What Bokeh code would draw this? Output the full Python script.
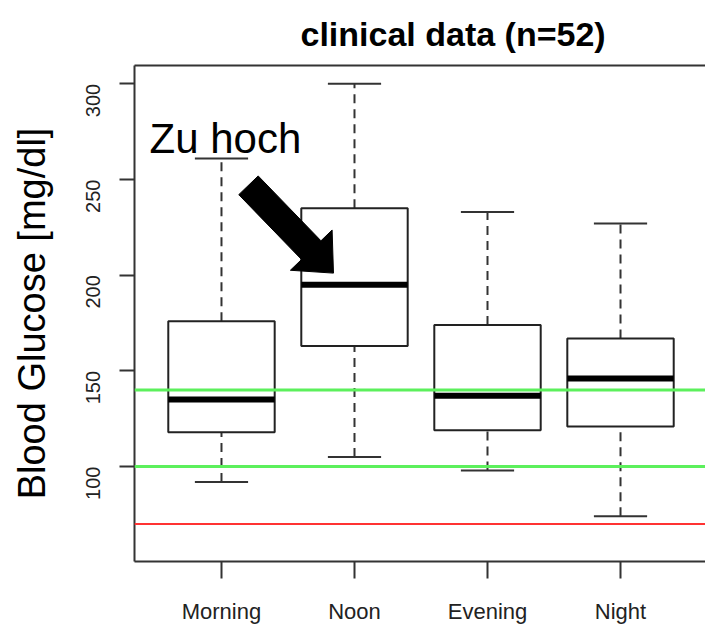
import math
from bokeh.plotting import figure
from bokeh.models import Span, Label, LinearAxis, FixedTicker, Range1d, ColumnDataSource
from bokeh.embed import file_html
from bokeh.resources import INLINE

# ---------------- data ----------------
categories = ["Morning", "Noon", "Evening", "Night"]
whisker_low = [92, 105, 98, 74]
q1 = [118, 163, 119, 121]
median = [135, 195, 137, 146]
q3 = [176, 235, 174, 167]
whisker_high = [261, 300, 233, 227]
y_ticks = [100, 150, 200, 250, 300]
target_low = 100
target_high = 140
hypo_limit = 70
title_text = "clinical data (n=52)"
y_label = "Blood Glucose [mg/dl]"
note_text = "Zu hoch"

# annotation anchors (data coordinates)
note_pos = (0.459, 271.5)
arrow_tail = (1.203, 247.0)
arrow_tip = (1.842, 201.1)

# ---------------- layout ----------------
W, H = 705, 629
MB_L, MB_R, MB_T, MB_B = 134, 0, 64, 68
X0, X1 = 0.346, 4.639
Y0, Y1 = 50.4, 309.6
FRAME_W = W - MB_L - MB_R
FRAME_H = H - MB_T - MB_B
BOX_HALF = 0.4
CAP_HALF = 0.2

xs = [i + 1 for i in range(len(categories))]
src = ColumnDataSource(dict(
    x=xs,
    left=[x - BOX_HALF for x in xs],
    right=[x + BOX_HALF for x in xs],
    cap_l=[x - CAP_HALF for x in xs],
    cap_r=[x + CAP_HALF for x in xs],
    lo=whisker_low, q1=q1, med=median, q3=q3, hi=whisker_high,
))

p = figure(width=W, height=H, x_range=Range1d(X0, X1), y_range=Range1d(Y0, Y1),
           output_backend="svg", toolbar_location=None,
           min_border_left=MB_L, min_border_right=MB_R,
           min_border_top=MB_T, min_border_bottom=MB_B,
           outline_line_color=None, background_fill_color="white",
           border_fill_color="white")
p.grid.visible = False

# title
p.title.text = title_text
p.title.align = "left"
p.title.offset = 166
p.title.text_font = "Liberation Sans"
p.title.text_font_style = "bold"
p.title.text_font_size = "34px"
p.title.text_color = "black"
p.title.standoff = 25

AX_COL = "#333333"
# x axis
xa = p.xaxis[0]
xa.ticker = FixedTicker(ticks=xs)
xa.major_label_overrides = {x: c for x, c in zip(xs, categories)}
xa.minor_tick_line_color = None
xa.major_tick_in = 0
xa.major_tick_out = 17
xa.major_tick_line_width = 2
xa.major_tick_line_color = AX_COL
xa.axis_line_width = 2
xa.axis_line_color = AX_COL
xa.major_label_standoff = 20
xa.major_label_text_font = "Liberation Sans"
xa.major_label_text_font_size = "22px"
xa.major_label_text_color = "#222222"

# y axis
ya = p.yaxis[0]
ya.ticker = FixedTicker(ticks=y_ticks)
ya.minor_tick_line_color = None
ya.major_tick_in = 0
ya.major_tick_out = 15
ya.major_tick_line_width = 2
ya.major_tick_line_color = AX_COL
ya.axis_line_width = 2
ya.axis_line_color = AX_COL
ya.major_label_orientation = math.pi / 2
ya.major_label_standoff = 26
ya.major_label_text_font = "Liberation Sans"
ya.major_label_text_font_size = "20px"
ya.major_label_text_color = "#222222"
ya.axis_label = y_label
ya.axis_label_text_font = "Liberation Sans"
ya.axis_label_text_font_size = "38px"
ya.axis_label_text_font_style = "normal"
ya.axis_label_text_color = "black"
ya.axis_label_standoff = 24

# top border
top = LinearAxis(ticker=FixedTicker(ticks=[]), major_label_text_font_size="0px",
                 major_label_standoff=0, major_tick_out=0, major_tick_in=0,
                 major_tick_line_color=None, minor_tick_line_color=None,
                 axis_line_width=2, axis_line_color=AX_COL)
p.add_layout(top, "above")

# boxplots
DASH = "9 6"
p.segment(x0="x", y0="q3", x1="x", y1="hi", source=src, line_color=AX_COL,
          line_width=2, line_dash=DASH)
p.segment(x0="x", y0="lo", x1="x", y1="q1", source=src, line_color=AX_COL,
          line_width=2, line_dash=DASH)
p.quad(left="left", right="right", bottom="q1", top="q3", source=src,
       fill_color="white", line_color="#222222", line_width=2)
p.segment(x0="cap_l", y0="hi", x1="cap_r", y1="hi", source=src,
          line_color=AX_COL, line_width=2)
p.segment(x0="cap_l", y0="lo", x1="cap_r", y1="lo", source=src,
          line_color=AX_COL, line_width=2)
p.segment(x0="left", y0="med", x1="right", y1="med", source=src,
          line_color="black", line_width=6)

# reference lines
p.add_layout(Span(location=target_high, dimension="width", line_color="#5cf05c",
                  line_width=3))
p.add_layout(Span(location=target_low, dimension="width", line_color="#5cf05c",
                  line_width=3))
p.add_layout(Span(location=hypo_limit, dimension="width", line_color="#ff3333",
                  line_width=2))

# annotation text
p.add_layout(Label(x=note_pos[0], y=note_pos[1], text=note_text,
                   text_align="left", text_baseline="alphabetic",
                   text_font="Liberation Sans", text_font_size="42px",
                   text_color="black"))

# arrow (geometry in pixels, converted back to data units)
kx = FRAME_W / (X1 - X0)
ky = FRAME_H / (Y1 - Y0)
dxp = (arrow_tip[0] - arrow_tail[0]) * kx
dyp = -(arrow_tip[1] - arrow_tail[1]) * ky
L = math.hypot(dxp, dyp)
ux, uy = dxp / L, dyp / L
nx, ny = -uy, ux
SHAFT_HALF, HEAD_HALF, HEAD_LEN = 13.5, 29.0, 32.0
base = L - HEAD_LEN
pts = [
    (nx * SHAFT_HALF, ny * SHAFT_HALF),
    (ux * base + nx * SHAFT_HALF, uy * base + ny * SHAFT_HALF),
    (ux * base + nx * HEAD_HALF, uy * base + ny * HEAD_HALF),
    (ux * L, uy * L),
    (ux * base - nx * HEAD_HALF, uy * base - ny * HEAD_HALF),
    (ux * base - nx * SHAFT_HALF, uy * base - ny * SHAFT_HALF),
    (-nx * SHAFT_HALF, -ny * SHAFT_HALF),
]
ax = [arrow_tail[0] + px / kx for px, py in pts]
ay = [arrow_tail[1] - py / ky for px, py in pts]
p.patch(ax, ay, fill_color="black", line_color="black", line_width=1)

open("out.html", "w").write(file_html(p, INLINE))
